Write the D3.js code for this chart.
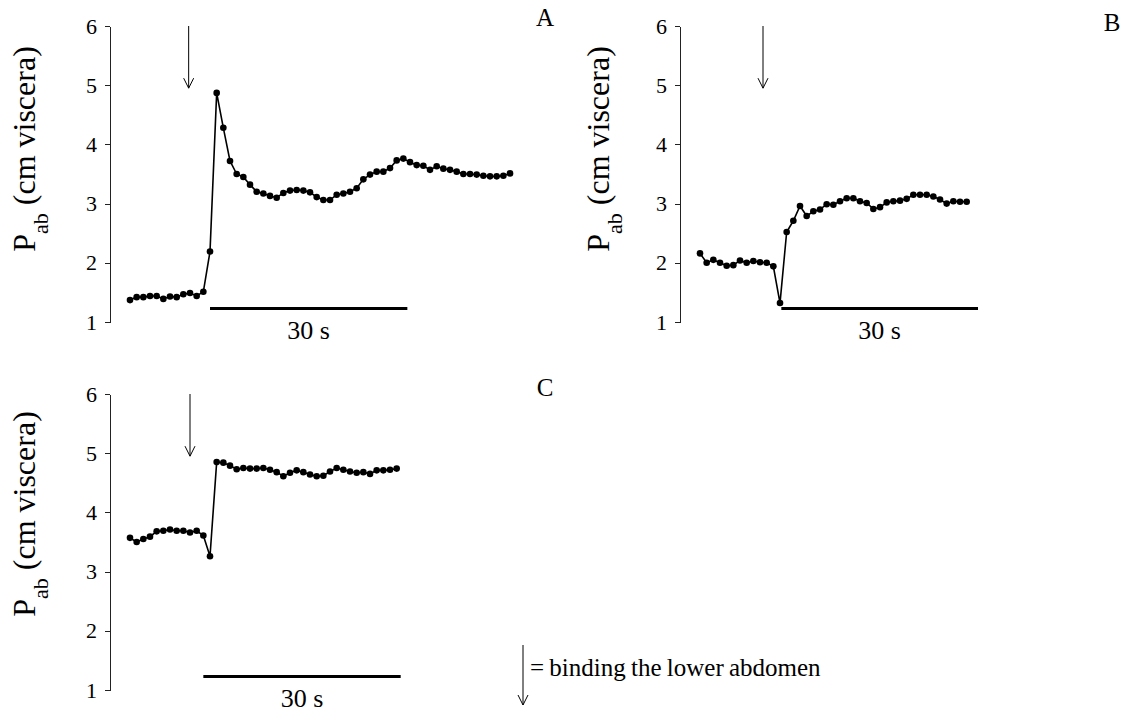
<!DOCTYPE html>
<html>
<head>
  <script src="https://d3js.org/d3.v7.min.js"></script>
  <style>
    body { margin: 0; background: #fff; }
    .axis path, .axis line { stroke: #222; stroke-width: 1; shape-rendering: crispEdges; }
  </style>
</head>
<body>
<svg id="chart" width="1136" height="713"></svg>
<script>
  // values, one reading per second
  var pabA = [1.37, 1.42, 1.42, 1.44, 1.44, 1.39, 1.43, 1.42, 1.47, 1.49, 1.44, 1.51,
              2.19, 4.87, 4.28, 3.72, 3.50, 3.45, 3.32, 3.20, 3.17, 3.13, 3.10, 3.18,
              3.22, 3.23, 3.22, 3.19, 3.11, 3.06, 3.06, 3.15, 3.17, 3.20, 3.26, 3.41,
              3.49, 3.54, 3.54, 3.60, 3.73, 3.76, 3.70, 3.65, 3.64, 3.57, 3.63, 3.59,
              3.57, 3.54, 3.50, 3.50, 3.49, 3.47, 3.46, 3.46, 3.47, 3.51];
  var pabB = [2.16, 2.00, 2.05, 2.00, 1.95, 1.96, 2.04, 2.00, 2.03, 2.01, 2.00, 1.94,
              1.32, 2.52, 2.71, 2.96, 2.79, 2.87, 2.90, 2.99, 2.98, 3.04, 3.09, 3.09,
              3.04, 3.01, 2.91, 2.94, 3.02, 3.04, 3.05, 3.08, 3.15, 3.15, 3.15, 3.12,
              3.07, 3.00, 3.04, 3.03, 3.03];
  var pabC = [3.57, 3.50, 3.55, 3.59, 3.68, 3.69, 3.71, 3.69, 3.69, 3.66, 3.69, 3.61,
              3.26, 4.85, 4.84, 4.79, 4.73, 4.75, 4.74, 4.74, 4.75, 4.72, 4.68, 4.61,
              4.67, 4.71, 4.68, 4.64, 4.61, 4.62, 4.69, 4.75, 4.72, 4.69, 4.67, 4.68,
              4.65, 4.71, 4.71, 4.72, 4.74];
  var panelNames = ["A", "B", "C"];
  var yTicks = [1, 2, 3, 4, 5, 6];
  var barSeconds = [[12, 41.6], [12.2, 41.7], [11, 40.6]];   // the 30 s bar
  var arrowSeconds = [8.8, 9.45, 9.0];                      // binding the lower abdomen
  var barText = "30 s";
  var legendText = "= binding the lower abdomen";

  var series = [pabA, pabB, pabC];

  // where each panel sits on the page
  var layout = [
    { axisX: 110, top: 26, bottom: 322, labelX: 35, labelY: 149, nameX: 545, nameY: 26 },
    { axisX: 680, top: 26, bottom: 322, labelX: 609, labelY: 149, nameX: 1112, nameY: 31 },
    { axisX: 110, top: 394, bottom: 690, labelX: 35, labelY: 514, nameX: 545, nameY: 396 }
  ];
  var pxPerSecond = 6.667;
  var leadSeconds = 3;
  var serif = "Liberation Serif";

  var svg = d3.select("#chart");

  function arrow(g, x, y1, y2) {
    g.append("line").attr("x1", x).attr("x2", x).attr("y1", y1).attr("y2", y2)
      .attr("stroke", "#000").attr("stroke-width", 1);
    g.append("path")
      .attr("d", "M" + (x - 5) + "," + (y2 - 10) + "L" + x + "," + y2 + "L" + (x + 5) + "," + (y2 - 10))
      .attr("fill", "none").attr("stroke", "#000").attr("stroke-width", 1);
  }

  series.forEach(function(values, i) {
    var L = layout[i];
    var g = svg.append("g");

    var y = d3.scaleLinear().domain([1, 6]).range([L.bottom, L.top]);
    var x = d3.scaleLinear().domain([-leadSeconds, 60])
      .range([L.axisX, L.axisX + (60 + leadSeconds) * pxPerSecond]);

    var ax = g.append("g")
      .attr("class", "axis")
      .attr("transform", "translate(" + L.axisX + ",0)")
      .call(d3.axisLeft(y).tickValues(yTicks).tickSize(5).tickSizeOuter(0).tickPadding(8)
        .tickFormat(d3.format("d")));
    ax.attr("font-family", serif).attr("font-size", 22);
    ax.selectAll("text").attr("fill", "#000");

    var lab = g.append("text")
      .attr("transform", "translate(" + L.labelX + "," + L.labelY + ") rotate(-90)")
      .attr("text-anchor", "middle")
      .attr("font-family", serif)
      .attr("font-size", 32);
    lab.append("tspan").text("P");
    lab.append("tspan").attr("baseline-shift", "sub").attr("font-size", 22).text("ab");
    lab.append("tspan").text(" (cm viscera)");

    g.append("text")
      .attr("x", L.nameX).attr("y", L.nameY)
      .attr("text-anchor", "middle")
      .attr("font-family", serif)
      .attr("font-size", 25)
      .text(panelNames[i]);

    var line = d3.line()
      .x(function(d, k) { return x(k); })
      .y(function(d) { return y(d); });

    g.append("path")
      .datum(values)
      .attr("d", line)
      .attr("fill", "none")
      .attr("stroke", "#000")
      .attr("stroke-width", 1.6);

    g.selectAll("circle")
      .data(values)
      .enter().append("circle")
      .attr("cx", function(d, k) { return x(k); })
      .attr("cy", function(d) { return y(d); })
      .attr("r", 3.3)
      .attr("fill", "#000");

    var barY = y(1.23);
    g.append("line")
      .attr("x1", x(barSeconds[i][0])).attr("x2", x(barSeconds[i][1]))
      .attr("y1", barY).attr("y2", barY)
      .attr("stroke", "#000").attr("stroke-width", 3);

    g.append("text")
      .attr("x", x((barSeconds[i][0] + barSeconds[i][1]) / 2))
      .attr("y", barY + 31)
      .attr("text-anchor", "middle")
      .attr("font-family", serif)
      .attr("font-size", 26)
      .text(barText);

    arrow(g, x(arrowSeconds[i]), y(6), y(4.95));
  });

  // key for the arrow
  var key = svg.append("g");
  arrow(key, 523, 645, 705);
  key.append("text")
    .attr("x", 530).attr("y", 676)
    .attr("font-family", serif)
    .attr("font-size", 25)
    .attr("word-spacing", -1)
    .text(legendText);
</script>
</body>
</html>
